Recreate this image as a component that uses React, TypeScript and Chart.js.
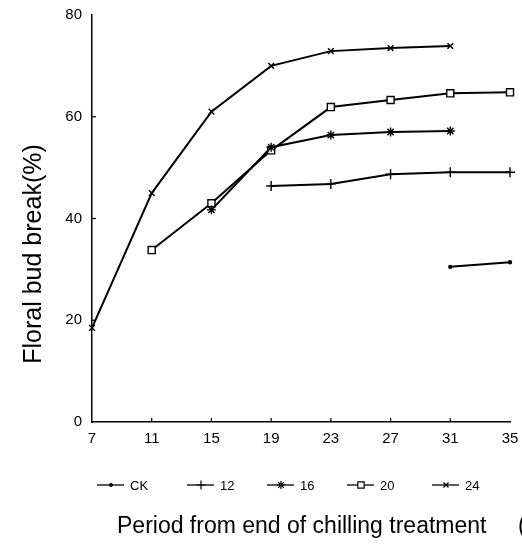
import React, { useEffect, useRef } from "react";
import { Chart, registerables } from "chart.js";
import { drawPoint } from "chart.js/helpers";

Chart.register(...registerables);

const categories = ["7", "11", "15", "19", "23", "27", "31", "35"];
const seriesNames = ["CK", "12", "16", "20", "24"];
const ck = [null, null, null, null, null, null, 30.5, 31.4];
const s12 = [null, null, null, 46.4, 46.8, 48.7, 49.1, 49.1];
const s16 = [null, null, 41.7, 54.0, 56.4, 57.0, 57.2, null];
const s20 = [null, 33.8, 43.0, 53.4, 61.9, 63.3, 64.6, 64.8];
const s24 = [18.5, 45.0, 61.0, 70.0, 72.9, 73.5, 73.9, null];
const yTicks = [0, 20, 40, 60, 80];

const yTitle = "Floral bud break(%)";
const xTitle = "Period from end of chilling treatment";

const styles = [
  { pointStyle: "circle", radius: 1.5, fill: "#000" },
  { pointStyle: "cross", radius: 5, fill: "#000" },
  { pointStyle: "star", radius: 4.5, fill: "#000" },
  { pointStyle: "rect", radius: 5, fill: "#fff" },
  { pointStyle: "crossRot", radius: 4, fill: "#000" },
];

const legendX = [97, 187, 267, 347, 432];

const decorPlugin = {
  id: "decor",
  afterDraw(chart: any) {
    const ctx = chart.ctx;
    const xs = chart.scales.x;
    const ys = chart.scales.y;
    const area = chart.chartArea;
    ctx.save();
    ctx.strokeStyle = "#000";
    ctx.lineWidth = 1.2;
    // inward ticks
    yTicks.forEach((v) => {
      if (v === 0 || v === 80) return;
      const y = ys.getPixelForValue(v);
      ctx.beginPath();
      ctx.moveTo(area.left, y);
      ctx.lineTo(area.left + 4, y);
      ctx.stroke();
    });
    categories.forEach((c, i) => {
      if (i === 0 || i === categories.length - 1) return;
      const x = xs.getPixelForValue(i);
      ctx.beginPath();
      ctx.moveTo(x, area.bottom);
      ctx.lineTo(x, area.bottom - 4);
      ctx.stroke();
    });
    // y title
    ctx.fillStyle = "#000";
    ctx.font = "25px 'Liberation Sans', Arial, sans-serif";
    ctx.save();
    ctx.translate(41, 254);
    ctx.rotate(-Math.PI / 2);
    ctx.textAlign = "center";
    ctx.textBaseline = "alphabetic";
    ctx.fillText(yTitle, 0, 0);
    ctx.restore();
    // x title
    ctx.textAlign = "left";
    ctx.textBaseline = "middle";
    ctx.font = "23px 'Liberation Sans', Arial, sans-serif";
    ctx.fillText(xTitle, 117, 527);
    ctx.fillText("(", 518, 527);
    // legend
    const ly = 485;
    ctx.font = "13px 'Liberation Sans', Arial, sans-serif";
    chart.data.datasets.forEach((ds: any, i: number) => {
      const x0 = legendX[i];
      ctx.strokeStyle = "#000";
      ctx.lineWidth = 1.3;
      ctx.beginPath();
      ctx.moveTo(x0, ly);
      ctx.lineTo(x0 + 27, ly);
      ctx.stroke();
      const st = styles[i];
      ctx.fillStyle = st.fill;
      ctx.strokeStyle = "#000";
      ctx.lineWidth = 1.2;
      drawPoint(ctx, { pointStyle: st.pointStyle, radius: st.radius * 0.9, rotation: 0, borderWidth: 1.2 } as any, x0 + 14, ly);
      ctx.fillStyle = "#000";
      ctx.textBaseline = "middle";
      ctx.fillText(ds.label, x0 + 33, ly + 1);
    });
    ctx.restore();
  },
};

export default function App() {
  const ref = useRef<HTMLCanvasElement>(null);
  useEffect(() => {
    document.body.style.margin = "0";
    const data = [ck, s12, s16, s20, s24];
    const chart = new Chart(ref.current!, {
      type: "line",
      data: {
        labels: categories,
        datasets: data.map((d, i) => ({
          label: seriesNames[i],
          data: d,
          borderColor: "#000",
          borderWidth: 2,
          backgroundColor: styles[i].fill,
          pointStyle: styles[i].pointStyle as any,
          pointRadius: styles[i].radius,
          pointBorderColor: "#000",
          pointBorderWidth: 1.4,
          pointBackgroundColor: styles[i].fill,
          spanGaps: false,
          tension: 0,
          fill: false,
        })),
      },
      options: {
        responsive: false,
        animation: false,
        layout: { padding: { left: 0, top: 15, right: 12, bottom: 98 } },
        plugins: { legend: { display: false }, tooltip: { enabled: false }, title: { display: false } },
        scales: {
          x: {
            type: "category",
            offset: false,
            grid: { display: false },
            border: { display: true, color: "#000", width: 1.5 },
            ticks: {
              color: "#000",
              padding: 0,
              maxRotation: 0,
              autoSkip: false,
              font: { family: "'Liberation Sans', Arial, sans-serif", size: 15 },
            },
            afterFit: (s: any) => {
              s.height = 30;
            },
          },
          y: {
            min: 0,
            max: 80,
            grid: { display: false },
            border: { display: true, color: "#000", width: 1.5 },
            ticks: {
              stepSize: 20,
              color: "#000",
              padding: 2,
              font: { family: "'Liberation Sans', Arial, sans-serif", size: 15 },
            },
            afterFit: (s: any) => {
              s.width = 92;
            },
          },
        },
      },
      plugins: [decorPlugin],
    });
    return () => chart.destroy();
  }, []);
  return (
    <div style={{ width: 522, height: 550 }}>
      <canvas ref={ref} width={522} height={550} />
    </div>
  );
}
